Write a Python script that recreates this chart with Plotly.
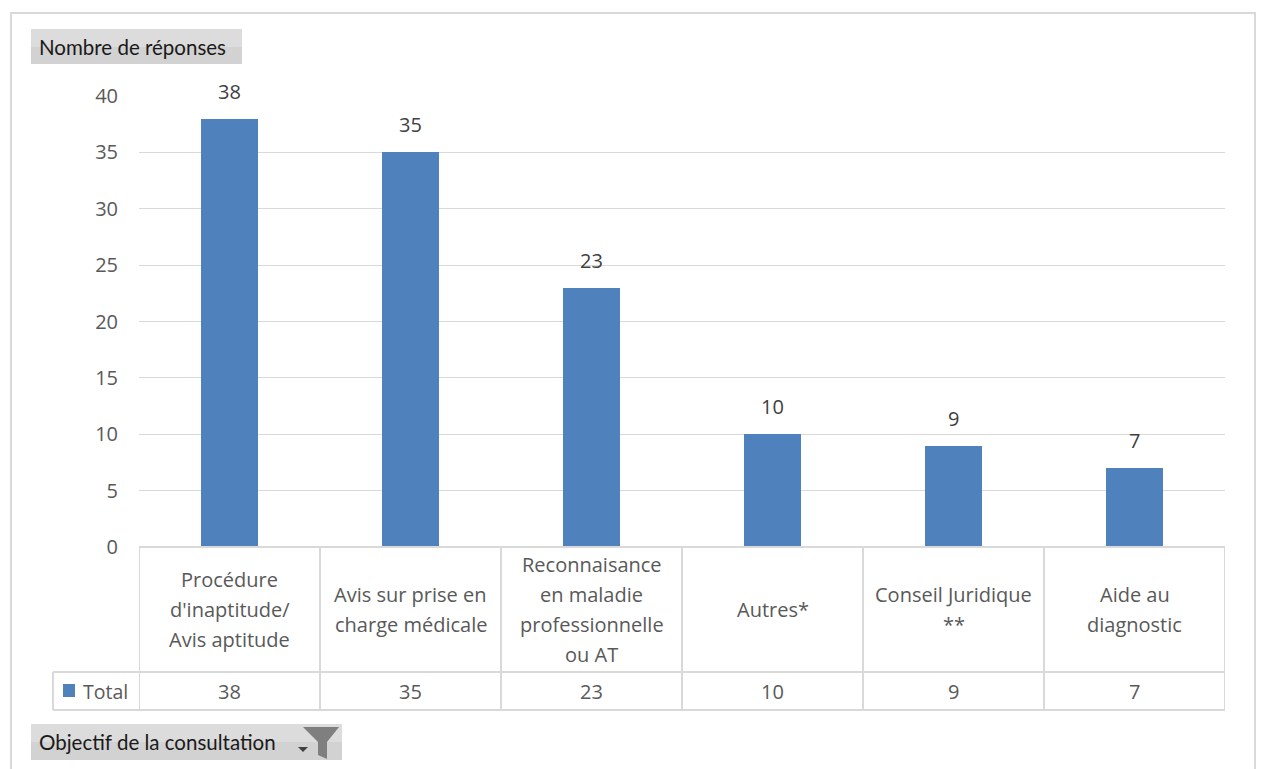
import plotly.graph_objects as go

W, H = 1262, 769

categories = [
    "Procédure<br>d'inaptitude/<br>Avis aptitude",
    "Avis sur prise en<br>charge médicale",
    "Reconnaisance<br>en maladie<br>professionnelle<br>ou AT",
    "Autres*",
    "Conseil Juridique<br>**",
    "Aide au<br>diagnostic",
]
values = [38, 35, 23, 10, 9, 7]
series_name = "Total"
y_ticks = [0, 5, 10, 15, 20, 25, 30, 35, 40]
y_title = "Nombre de réponses"
filter_label = "Objectif de la consultation"

BAR = "#4f81bd"
GRID = "#d9d9d9"
TXT = "#595959"
FONT = "Open Sans"


def px(x):
    return x / W


def py(y):
    return 1 - y / H


plot_l, plot_r, plot_t, plot_b = 139, 1225, 96, 547
x_pos = list(range(len(categories)))

fig = go.Figure()
fig.add_trace(go.Bar(
    x=x_pos, y=values, marker=dict(color=BAR, line=dict(width=0)),
    width=0.32, name=series_name, showlegend=False, hoverinfo="skip",
))

shapes = []
annotations = []

# outer frame
shapes.append(dict(type="rect", xref="paper", yref="paper",
                   x0=px(11), x1=px(1255), y0=py(780), y1=py(13),
                   line=dict(color=GRID, width=2), fillcolor="rgba(0,0,0,0)", layer="below"))

# data table lines
tbl_top, tbl_mid, tbl_bot = 547, 672, 710
for y0, xl in [(tbl_top, plot_l), (tbl_mid, 53), (tbl_bot, 53)]:
    shapes.append(dict(type="line", xref="paper", yref="paper",
                       x0=px(xl), x1=px(plot_r), y0=py(y0), y1=py(y0),
                       line=dict(color=GRID, width=2)))
for i in range(len(categories) + 1):
    shapes.append(dict(type="line", xref="x", yref="paper",
                       x0=i - 0.5, x1=i - 0.5, y0=py(tbl_bot), y1=py(tbl_top),
                       line=dict(color=GRID, width=2)))
shapes.append(dict(type="line", xref="paper", yref="paper",
                   x0=px(53), x1=px(53), y0=py(tbl_bot), y1=py(tbl_mid),
                   line=dict(color=GRID, width=2)))

# legend key in table
shapes.append(dict(type="rect", xref="paper", yref="paper",
                   x0=px(63), x1=px(75), y0=py(697), y1=py(684),
                   fillcolor=BAR, line=dict(width=0)))
annotations.append(dict(text=series_name, xref="paper", yref="paper",
                        x=px(81), y=py(691), xanchor="left", yanchor="middle",
                        showarrow=False, font=dict(family=FONT, size=19.5, color=TXT)))

# category labels in table header row
cy = (tbl_top + tbl_mid) / 2
for i, lab in enumerate(categories):
    lines = lab.split("<br>")
    n = len(lines)
    for k, ln in enumerate(lines):
        off = (k - (n - 1) / 2) * 30
        annotations.append(dict(text=ln, xref="x", yref="paper", x=i, y=py(cy + off),
                                xanchor="center", yanchor="middle", showarrow=False,
                                font=dict(family=FONT, size=20, color=TXT)))
    # total row values
    annotations.append(dict(text=str(values[i]), xref="x", yref="paper", x=i, y=py(691),
                            xanchor="center", yanchor="middle", showarrow=False,
                            font=dict(family=FONT, size=20, color=TXT)))
    # data labels above bars
    annotations.append(dict(text=str(values[i]), xref="x", yref="y", x=i, y=values[i],
                            xanchor="center", yanchor="bottom", yshift=12, showarrow=False,
                            font=dict(family=FONT, size=20, color="#404040")))

# field buttons
shapes.append(dict(type="rect", xref="paper", yref="paper",
                   x0=px(31), x1=px(242), y0=py(64), y1=py(29),
                   fillcolor="#d2d2d2", line=dict(width=0)))
shapes.append(dict(type="rect", xref="paper", yref="paper",
                   x0=px(31), x1=px(242), y0=py(47), y1=py(29),
                   fillcolor="#dcdcdc", line=dict(width=0)))
annotations.append(dict(text=y_title, xref="paper", yref="paper", x=px(37), y=py(46.5),
                        xanchor="left", yanchor="middle", showarrow=False,
                        font=dict(family="Lato", size=20.5, color="#1a1a1a")))
shapes.append(dict(type="rect", xref="paper", yref="paper",
                   x0=px(31), x1=px(342), y0=py(760), y1=py(724),
                   fillcolor="#d2d2d2", line=dict(width=0)))
shapes.append(dict(type="rect", xref="paper", yref="paper",
                   x0=px(31), x1=px(342), y0=py(742), y1=py(724),
                   fillcolor="#dcdcdc", line=dict(width=0)))
annotations.append(dict(text=filter_label, xref="paper", yref="paper", x=px(37), y=py(742),
                        xanchor="left", yanchor="middle", showarrow=False,
                        font=dict(family="Lato", size=20.5, color="#1a1a1a")))
# funnel icon
fx = [303, 339, 327, 327, 318, 318]
fy = [727, 727, 742, 759, 755, 742]
path = "M " + " L ".join(f"{px(a)},{py(b)}" for a, b in zip(fx, fy)) + " Z"
shapes.append(dict(type="path", xref="paper", yref="paper", path=path,
                   fillcolor="#7f7f7f", line=dict(width=0)))
ax = [298, 308, 303]
ay = [747, 747, 752]
path2 = "M " + " L ".join(f"{px(a)},{py(b)}" for a, b in zip(ax, ay)) + " Z"
shapes.append(dict(type="path", xref="paper", yref="paper", path=path2,
                   fillcolor="#404040", line=dict(width=0)))

fig.update_layout(
    width=W, height=H, autosize=False, margin=dict(l=0, r=0, t=0, b=0, pad=0),
    paper_bgcolor="white", plot_bgcolor="white",
    shapes=shapes, annotations=annotations, bargap=0,
    xaxis=dict(domain=[px(plot_l), px(plot_r)], range=[-0.5, len(categories) - 0.5],
               showticklabels=False, showgrid=False, zeroline=False, showline=False,
               fixedrange=True, automargin=False),
    yaxis=dict(domain=[py(plot_b), py(plot_t)], range=[0, 40], tickvals=y_ticks,
               showgrid=True, gridcolor=GRID, gridwidth=1, zeroline=False, showline=False,
               ticks="", ticklabelstandoff=20, automargin=False,
               tickfont=dict(family=FONT, size=20, color=TXT), fixedrange=True),
)

fig.write_html("out.html")
